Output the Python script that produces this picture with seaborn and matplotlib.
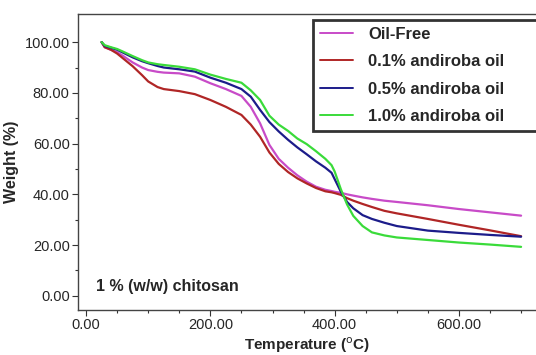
import pandas as pd
import matplotlib
matplotlib.use('Agg')
import matplotlib.pyplot as plt
import seaborn as sns

# --- TGA data ---
temperature = [25, 30, 40, 50, 60, 75, 90, 100, 115, 125, 150, 175, 200, 225, 250, 265,
               280, 295, 310, 325, 340, 355, 370, 385, 395, 400, 410, 420, 430, 445,
               460, 480, 500, 550, 600, 650, 700]

oil_free = [100, 98, 97, 96, 94.5, 92, 90, 89, 88.3, 88, 87.7, 86.4, 83.8, 81.5, 78.8, 74.5,
            68, 59.5, 54, 50.5, 47.5, 45, 43, 41.8, 41.3, 41, 40.6, 40, 39.5, 38.8,
            38.2, 37.5, 37, 35.7, 34.2, 32.9, 31.6]
oil_01 = [100, 98, 97, 95.5, 93.5, 90.5, 87, 84.5, 82.3, 81.5, 80.7, 79.5, 77.2, 74.5, 71.3, 67.5,
          62.7, 56.5, 52, 48.8, 46.3, 44.3, 42.5, 41.2, 40.8, 40.5, 39.8, 38.5, 37.5, 36.2,
          35, 33.5, 32.5, 30.3, 28, 25.8, 23.5]
oil_05 = [100, 98.5, 97.8, 97, 95.8, 94, 92.5, 91.7, 90.6, 90, 89.3, 88.4, 86, 84, 81.5, 78.5,
          73.3, 68.5, 64.8, 61.5, 58.5, 55.8, 53, 50.5, 48.5, 46, 41, 37, 34.5, 31.8,
          30.3, 28.8, 27.5, 25.7, 24.8, 24, 23.3]
oil_10 = [100, 98.8, 98, 97.3, 96.2, 94.5, 92.9, 92, 91.3, 91, 90.3, 89.3, 87.2, 85.5, 84, 81,
          77.2, 71, 67.5, 65, 62, 59.8, 57, 54, 51.5, 49, 42, 36, 31.5, 27.5,
          25, 23.8, 23, 22, 21, 20.2, 19.3]

series_names = ['Oil-Free', '0.1% andiroba oil', '0.5% andiroba oil', '1.0% andiroba oil']
series_values = [oil_free, oil_01, oil_05, oil_10]
colors = ['#C84BC8', '#B02626', '#1C1C8A', '#3ADB3A']

rows = []
for name, vals in zip(series_names, series_values):
    for t, w in zip(temperature, vals):
        rows.append({'Temperature': t, 'Weight': w, 'Sample': name})
df = pd.DataFrame(rows)

sns.set_style('white')
plt.rcParams['font.family'] = ['Liberation Sans', 'DejaVu Sans']

fig = plt.figure(figsize=(5.36, 3.55), dpi=100)
ax = fig.add_axes([78 / 536, 1 - 310 / 355, 1 - 78 / 536, (310 - 14) / 355])

sns.lineplot(data=df, x='Temperature', y='Weight', hue='Sample',
             palette=dict(zip(series_names, colors)), hue_order=series_names,
             linewidth=1.6, ax=ax, legend=False)

ax.set_xlim(-13, 724)
ax.set_ylim(-5.6, 111.1)
ax.set_xticks([0, 200, 400, 600])
ax.set_xticks([50, 100, 150, 250, 300, 350, 450, 500, 550, 650, 700], minor=True)
ax.set_yticks([0, 20, 40, 60, 80, 100])
ax.set_yticks([10, 30, 50, 70, 90], minor=True)
ax.xaxis.set_major_formatter(matplotlib.ticker.FormatStrFormatter('%.2f'))
ax.yaxis.set_major_formatter(matplotlib.ticker.FormatStrFormatter('%.2f'))
ax.tick_params(axis='both', which='major', direction='out', length=4, width=0.8,
               labelsize=10.5, color='#333333', pad=2, bottom=True, left=True)
ax.tick_params(axis='both', which='minor', direction='out', length=2, width=0.8,
               color='#333333', bottom=True, left=True)

for side in ['left', 'bottom', 'top']:
    ax.spines[side].set_color('#444444')
    ax.spines[side].set_linewidth(1.0)
ax.spines['right'].set_visible(False)

ax.set_xlabel(r'Temperature ($^{\rm o}$C)', fontsize=11, fontweight='bold', labelpad=2)
ax.set_ylabel('Weight (%)', fontsize=11.5, fontweight='bold', labelpad=4)

ax.text(96 / 536, 1 - 287 / 355, '1 % (w/w) chitosan', transform=fig.transFigure,
        fontsize=11.5, fontweight='bold', va='center', ha='left')

handles = [plt.Line2D([], [], color=c, linewidth=1.4) for c in colors]
leg = fig.legend(handles, series_names, loc='upper left', mode='expand',
                 bbox_to_anchor=(313 / 536, 1 - 130 / 355, 230 / 536, 110 / 355),
                 frameon=True, fancybox=False, edgecolor='black', fontsize=12,
                 handlelength=2.0, handletextpad=0.9, labelspacing=0.74,
                 borderpad=0.42, borderaxespad=0)
leg.get_frame().set_linewidth(2.0)
for txt in leg.get_texts():
    txt.set_fontweight('bold')

fig.savefig('out.png', dpi=100)
